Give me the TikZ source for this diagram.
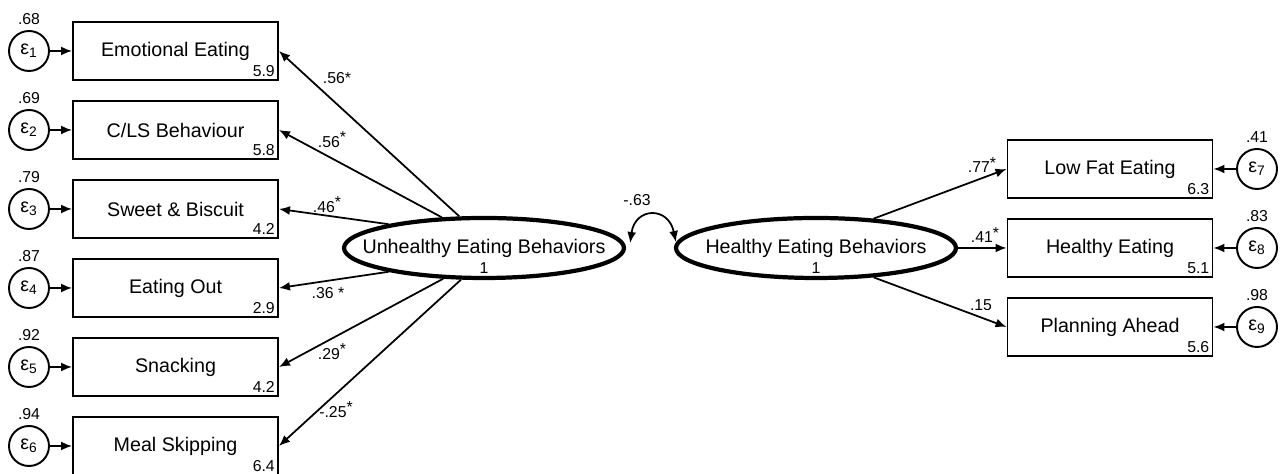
\documentclass[tikz,border=0pt]{standalone}
\usepackage{fontspec}
\setmainfont{Liberation Sans}
\usetikzlibrary{arrows.meta,shapes.geometric,positioning}
\tikzset{
  obs/.style={draw,line width=1.1pt,minimum width=4.1cm,minimum height=1.16cm,
    font=\fontsize{11.2}{13}\selectfont},
  lat/.style={draw,ellipse,line width=2.4pt,minimum width=5.6cm,minimum height=1.2cm,
    inner sep=0pt,font=\fontsize{11.2}{13}\selectfont},
  err/.style={draw,circle,line width=1.1pt,minimum size=0.8cm,inner sep=0pt,
    font=\fontsize{11.2}{13}\selectfont},
  num/.style={inner sep=1.5pt,font=\fontsize{9}{10}\selectfont},
  mean/.style={num,anchor=south east,inner sep=2.2pt},
  loading/.style={-{Latex[length=2.2mm,width=1.8mm]},line width=1pt},
  corr/.style={{Latex[length=2.2mm,width=1.8mm]}-{Latex[length=2.2mm,width=1.8mm]},line width=1pt},
}
\begin{document}
\begin{tikzpicture}
    \useasboundingbox (0,0) rectangle (25.74,9.48);
    % latent factors
    \node[lat] (u) at (9.68,4.52) {\makebox[0pt]{Unhealthy Eating Behaviors}};
    \node[num] (u1) at (9.68,4.12) {1};
    \node[lat] (h) at (16.32,4.52) {\makebox[0pt]{Healthy Eating Behaviors}};
    \node[num] (h1) at (16.32,4.12) {1};
    % unhealthy indicators
    \node[obs] (b1) at (3.51,8.46) {Emotional Eating};
    \node[obs] (b2) at (3.51,6.88) {C/LS Behaviour};
    \node[obs] (b3) at (3.51,5.30) {Sweet \& Biscuit};
    \node[obs] (b4) at (3.51,3.72) {Eating Out};
    \node[obs] (b5) at (3.51,2.14) {Snacking};
    \node[obs] (b6) at (3.51,0.56) {Meal Skipping};
    \node[mean] (m1) at (b1.south east) {5.9};
    \node[mean] (m2) at (b2.south east) {5.8};
    \node[mean] (m3) at (b3.south east) {4.2};
    \node[mean] (m4) at (b4.south east) {2.9};
    \node[mean] (m5) at (b5.south east) {4.2};
    \node[mean] (m6) at (b6.south east) {6.4};
    % healthy indicators
    \node[obs] (b7) at (22.20,6.10) {Low Fat Eating};
    \node[obs] (b8) at (22.20,4.52) {Healthy Eating};
    \node[obs] (b9) at (22.20,2.94) {Planning Ahead};
    \node[mean] (m7) at (b7.south east) {6.3};
    \node[mean] (m8) at (b8.south east) {5.1};
    \node[mean] (m9) at (b9.south east) {5.6};
    % error terms
    \node[err] (e1) at (0.58,8.46) {ε\textsubscript{1}};
    \node[err] (e2) at (0.58,6.88) {ε\textsubscript{2}};
    \node[err] (e3) at (0.58,5.30) {ε\textsubscript{3}};
    \node[err] (e4) at (0.58,3.72) {ε\textsubscript{4}};
    \node[err] (e5) at (0.58,2.14) {ε\textsubscript{5}};
    \node[err] (e6) at (0.58,0.56) {ε\textsubscript{6}};
    \node[err] (e7) at (25.14,6.10) {ε\textsubscript{7}};
    \node[err] (e8) at (25.14,4.52) {ε\textsubscript{8}};
    \node[err] (e9) at (25.14,2.94) {ε\textsubscript{9}};
    \node[num,above=0.05cm of e1] (v1) {.68};
    \node[num,above=0.05cm of e2] (v2) {.69};
    \node[num,above=0.05cm of e3] (v3) {.79};
    \node[num,above=0.05cm of e4] (v4) {.87};
    \node[num,above=0.05cm of e5] (v5) {.92};
    \node[num,above=0.05cm of e6] (v6) {.94};
    \node[num,above=0.05cm of e7] (v7) {.41};
    \node[num,above=0.05cm of e8] (v8) {.83};
    \node[num,above=0.05cm of e9] (v9) {.98};
    \draw[loading] (e1) -- (b1);
    \draw[loading] (e2) -- (b2);
    \draw[loading] (e3) -- (b3);
    \draw[loading] (e4) -- (b4);
    \draw[loading] (e5) -- (b5);
    \draw[loading] (e6) -- (b6);
    \draw[loading] (e7) -- (b7);
    \draw[loading] (e8) -- (b8);
    \draw[loading] (e9) -- (b9);
    % loadings
    \draw[loading] (u.128) -- (b1.east);
    \draw[loading] (u.144) -- (b2.east);
    \draw[loading] (u.166) -- (b3.east);
    \draw[loading] (u.194) -- (b4.east);
    \draw[loading] (u.217) -- (b5.east);
    \draw[loading] (u.234) -- (b6.east);
    \draw[loading] (h.27) -- (b7.west);
    \draw[loading] (h.east) -- (b8.west);
    \draw[loading] (h.-27) -- (b9.west);
    \node[num] (l1) at (6.74,7.92) {.56*};
    \node[num] (l2) at (6.64,6.68) {.56\raisebox{0.3em}{*}};
    \node[num] (l3) at (6.54,5.38) {.46\raisebox{0.3em}{*}};
    \node[num] (l4) at (6.56,3.62) {.36 *};
    \node[num] (l5) at (6.64,2.44) {.29\raisebox{0.3em}{*}};
    \node[num] (l6) at (6.72,1.28) {-.25\raisebox{0.3em}{*}};
    \node[num] (l7) at (19.64,6.18) {.77\raisebox{0.3em}{*}};
    \node[num] (l8) at (19.70,4.78) {.41\raisebox{0.3em}{*}};
    \node[num] (l9) at (19.62,3.38) {.15};
    % factor correlation
    \draw[corr] ([shift={(0.08,0.1)}]u.east) .. controls +(0.1,0.72) and +(-0.15,0.72)
        .. ([shift={(0.04,0.12)}]h.west);
    \node[num] (r) at (12.74,5.47) {-.63};
\end{tikzpicture}
\end{document}
